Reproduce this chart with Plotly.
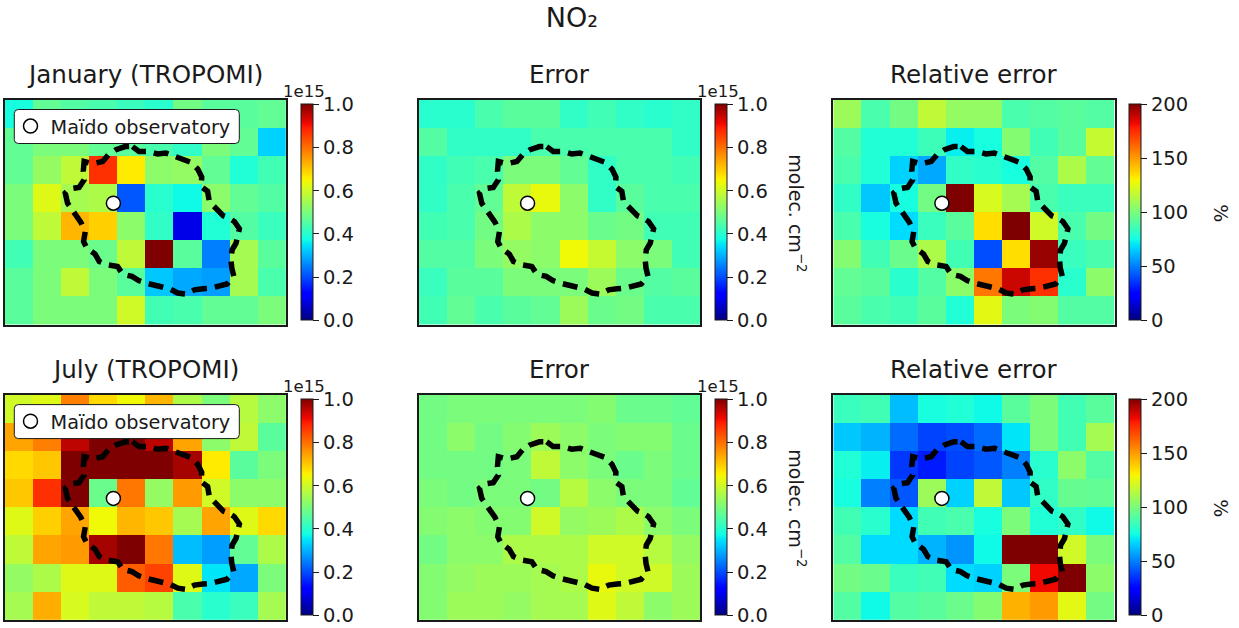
import plotly.graph_objects as go

W, H = 1239, 628

jan_tropomi = [
    [.38,.47,.45,.44,.42,.40,.49,.46,.46,.47],
    [.47,.50,.50,.47,.46,.44,.41,.50,.47,.33],
    [.47,.53,.58,.87,.66,.52,.53,.47,.39,.43],
    [.50,.62,.55,.56,.21,.40,.37,.52,.47,.45],
    [.50,.58,.72,.69,.52,.41,.09,.39,.45,.42],
    [.43,.50,.50,.48,.58,1.0,.46,.25,.55,.46],
    [.46,.50,.58,.50,.46,.32,.29,.28,.55,.44],
    [.46,.50,.50,.50,.60,.43,.44,.47,.47,.50],
]
jan_error = [
    [.40,.40,.44,.46,.46,.41,.43,.41,.40,.41],
    [.45,.41,.41,.41,.44,.44,.44,.44,.44,.41],
    [.41,.43,.44,.50,.50,.47,.41,.44,.44,.43],
    [.41,.44,.47,.58,.63,.52,.41,.46,.44,.44],
    [.43,.44,.49,.56,.52,.52,.48,.49,.43,.43],
    [.45,.45,.50,.53,.52,.64,.59,.52,.50,.43],
    [.42,.46,.46,.50,.50,.50,.54,.48,.45,.46],
    [.43,.47,.44,.46,.47,.54,.48,.49,.44,.44],
]
jan_relative = [
    [108,88,98,116,106,106,88,90,92,90],
    [90,78,78,85,72,76,102,86,92,118],
    [88,78,66,58,82,80,76,90,112,94],
    [82,64,76,98,200,122,110,88,84,84],
    [88,76,68,84,92,135,200,120,88,98],
    [102,86,96,112,86,40,135,196,84,88],
    [94,92,80,90,104,158,188,174,80,104],
    [92,88,86,92,78,125,100,102,90,90],
]
jul_tropomi = [
    [.60,.62,.78,.68,.64,.72,.56,.50,.57,.52],
    [.74,.78,.95,1.0,1.0,.95,.74,.52,.58,.46],
    [.68,.70,1.0,1.0,1.0,1.0,.97,.66,.46,.50],
    [.70,.87,1.0,.48,.79,.53,.75,.60,.52,.52],
    [.62,.69,.74,.64,.72,.70,.55,.74,.62,.68],
    [.58,.74,.75,.97,1.0,.79,.31,.28,.47,.56],
    [.53,.56,.62,.62,.82,.85,.62,.35,.29,.50],
    [.55,.73,.61,.58,.58,.57,.44,.40,.42,.55],
]
jul_error = [
    [.49,.50,.50,.50,.50,.50,.51,.48,.48,.47],
    [.49,.52,.49,.51,.54,.52,.50,.51,.51,.48],
    [.49,.49,.49,.50,.58,.52,.50,.48,.50,.48],
    [.50,.49,.50,.50,.49,.57,.52,.50,.50,.47],
    [.51,.52,.51,.51,.60,.53,.54,.56,.52,.50],
    [.49,.52,.52,.56,.56,.56,.60,.60,.57,.53],
    [.51,.53,.54,.54,.55,.56,.63,.60,.60,.54],
    [.51,.54,.54,.53,.55,.55,.62,.58,.52,.54],
]
jul_relative = [
    [84,86,62,76,78,74,92,100,86,92],
    [64,60,46,38,40,46,70,100,86,110],
    [78,72,36,30,38,42,50,80,104,90],
    [76,50,42,108,66,116,64,82,95,94],
    [86,80,68,86,88,76,100,78,82,74],
    [90,68,68,60,54,74,200,200,120,100],
    [98,96,84,86,68,66,100,182,200,104],
    [90,74,90,92,96,102,145,150,125,98],
]

col_centres = [0.5, 1.5, 2.5, 3.5, 4.5, 5.5, 6.5, 7.5, 8.5, 9.5]
row_centres = [7.5, 6.5, 5.5, 4.5, 3.5, 2.5, 1.5, 0.5]

coast_x = [4.54,4.77,5.11,5.43,5.73,6.02,6.38,6.62,6.86,7.00,6.98,7.21,7.27,7.51,7.77,7.93,8.16,8.34,8.28,8.22,
           8.08,8.04,8.07,8.14,7.90,7.63,7.33,7.04,6.74,6.44,6.15,5.85,5.59,5.35,5.02,4.76,4.52,4.19,4.01,3.65,
           3.36,3.21,2.92,2.80,2.86,2.70,2.41,2.23,2.15,2.32,2.64,2.82,2.79,2.82,3.12,3.48,3.68,3.95,4.28,4.54]
coast_y = [6.33,6.16,6.16,6.07,6.10,6.00,5.89,5.77,5.53,5.25,4.91,4.74,4.38,4.15,3.87,3.81,3.67,3.41,3.20,2.90,
           2.66,2.31,2.01,1.72,1.45,1.36,1.30,1.28,1.24,1.09,1.13,1.28,1.33,1.39,1.48,1.57,1.72,1.80,2.07,2.13,
           2.25,2.51,2.72,2.96,3.31,3.65,4.06,4.32,4.68,4.83,4.88,5.15,5.45,5.80,5.72,5.80,6.04,6.22,6.33,6.33]

site_x = [3.86]
site_y = [4.32]
site_name = "Maïdo observatory"

main_title = "NO₂"
panel_titles = ["January (TROPOMI)", "Error", "Relative error", "July (TROPOMI)", "Error", "Relative error"]
panel_data = [jan_tropomi, jan_error, jan_relative, jul_tropomi, jul_error, jul_relative]
col_ticks = [0, 0.2, 0.4, 0.6, 0.8, 1.0]
pct_ticks = [0, 50, 100, 150, 200]

# matplotlib "jet"
jet_hex = [(0,"#00007f"),(0.11,"#0000ff"),(0.125,"#0000ff"),(0.34,"#00dcff"),(0.35,"#00e5f7"),(0.375,"#13ffe3"),
           (0.64,"#f0f906"),(0.65,"#f7f400"),(0.66,"#ffeb00"),(0.89,"#ff1e00"),(0.91,"#f10800"),(1,"#7f0000")]

FONT = "DejaVu Sans"
INK = "#1a1a1a"
panel_lefts = [4.8, 419, 833.3]
panel_w = 281.3
row_tops = [99.6, 394.8]
panel_h = 225.2
cb_lefts = [300.7, 715, 1129]
cb_w = 12
cb_h = 215.7
cb_tops = [104.3, 399.3]

fig = go.Figure()
layout = {}
shapes, annotations = [], []

for i, z in enumerate(panel_data):
    r, c = i // 3, i % 3
    n = i + 1
    xa, ya = f"x{n}" if n > 1 else "x", f"y{n}" if n > 1 else "y"
    left, top = panel_lefts[c], row_tops[r]
    layout[f"xaxis{n if n>1 else ''}"] = dict(
        domain=[left / W, (left + panel_w) / W], range=[0, 10], showticklabels=False, ticks="",
        showgrid=False, zeroline=False, showline=True, mirror=True, linecolor=INK, linewidth=1.5,
        anchor=ya)
    layout[f"yaxis{n if n>1 else ''}"] = dict(
        domain=[1 - (top + panel_h) / H, 1 - top / H], range=[0, 8], showticklabels=False, ticks="",
        showgrid=False, zeroline=False, showline=True, mirror=True, linecolor=INK, linewidth=1.5,
        anchor=xa)
    is_pct = c == 2
    cb = dict(
        x=cb_lefts[c] / W, xanchor="left", xref="paper",
        y=1 - cb_tops[r] / H, yanchor="top", yref="paper",
        len=cb_h / H, lenmode="fraction", thickness=cb_w, thicknessmode="pixels",
        xpad=0, ypad=0, outlinecolor=INK, outlinewidth=1,
        ticks="outside", ticklen=6, tickwidth=1, tickcolor=INK,
        tickvals=pct_ticks if is_pct else col_ticks,
        ticktext=[str(v) for v in pct_ticks] if is_pct else [f"{v:.1f}" for v in col_ticks],
        tickfont=dict(family=FONT, size=19.5, color=INK),
    )
    fig.add_trace(go.Heatmap(
        z=z, x=col_centres, y=row_centres, xaxis=xa, yaxis=ya,
        zmin=0, zmax=200 if is_pct else 1, colorscale=[[p, h] for p, h in jet_hex],
        colorbar=cb, xgap=0, ygap=0,
    ))
    fig.add_trace(go.Scatter(
        x=coast_x, y=coast_y, xaxis=xa, yaxis=ya, mode="lines", showlegend=False, hoverinfo="skip",
        line=dict(color="black", width=5.5, dash="15px,8px"),
    ))
    in_legend = c == 0
    fig.add_trace(go.Scatter(
        x=site_x, y=site_y, xaxis=xa, yaxis=ya, mode="markers", name=site_name, showlegend=in_legend,
        legend="legend" if r == 0 else "legend2",
        marker=dict(color="white", size=14, line=dict(color="black", width=1.5)),
    ))
    annotations.append(dict(
        text=panel_titles[i], xref="paper", yref="paper", x=(left + panel_w / 2) / W,
        y=1 - (top - 25.5) / H, xanchor="center", yanchor="middle", showarrow=False,
        font=dict(family=FONT, size=24.6, color=INK)))
    if not is_pct:
        annotations.append(dict(
            text="1e15", xref="paper", yref="paper", x=(cb_lefts[c] + 3) / W,
            y=1 - (cb_tops[r] - 13) / H, xanchor="center", yanchor="middle", showarrow=False,
            font=dict(family=FONT, size=16.5, color=INK)))
    if c > 0:
        annotations.append(dict(
            text="molec. cm<sup>−2</sup>" if c == 1 else "%", xref="paper", yref="paper",
            x=(797 if c == 1 else 1221) / W, y=1 - (cb_tops[r] + 109) / H, xanchor="center", yanchor="middle",
            textangle=90, showarrow=False, font=dict(family=FONT, size=19, color=INK)))

# rounded legend frames
for name, top in (("legend", 109.5), ("legend2", 404.6)):
    x0, x1, y0, y1, rad = 14.3, 239.3, top, top + 34, 4
    def px(a): return a / W
    def py(b): return 1 - b / H
    path = (f"M {px(x0+rad)} {py(y0)} L {px(x1-rad)} {py(y0)} Q {px(x1)} {py(y0)} {px(x1)} {py(y0+rad)} "
            f"L {px(x1)} {py(y1-rad)} Q {px(x1)} {py(y1)} {px(x1-rad)} {py(y1)} "
            f"L {px(x0+rad)} {py(y1)} Q {px(x0)} {py(y1)} {px(x0)} {py(y1-rad)} "
            f"L {px(x0)} {py(y0+rad)} Q {px(x0)} {py(y0)} {px(x0+rad)} {py(y0)} Z")
    shapes.append(dict(type="path", xref="paper", yref="paper", path=path, fillcolor="white",
                       line=dict(color=INK, width=1), layer="above"))
    layout[name] = dict(x=10.5 / W, xanchor="left", y=py(top + 17), yanchor="middle",
                        bgcolor="rgba(0,0,0,0)", borderwidth=0, itemwidth=30,
                        font=dict(family=FONT, size=19.3, color=INK))

fig.update_layout(
    width=W, height=H, margin=dict(l=0, r=0, t=0, b=0), autosize=False,
    paper_bgcolor="white", plot_bgcolor="white",
    title=dict(text=main_title, x=572 / W, y=1 - 18 / H, xanchor="center", yanchor="middle", xref="paper", yref="paper",
               font=dict(family=FONT, size=27, color=INK)),
    shapes=shapes, annotations=annotations, **layout,
)
fig.write_html("out.html", config={"displayModeBar": False},
               post_script="document.body.style.margin='0';document.documentElement.style.overflow='hidden';")
